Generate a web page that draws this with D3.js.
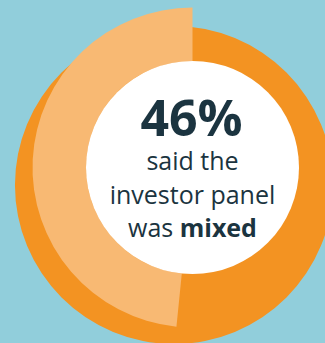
<!DOCTYPE html>
<html>
<head>
<meta charset="utf-8">
<script src="https://cdn.jsdelivr.net/npm/d3@7"></script>
<style>
  body { margin: 0; background: #91cedb; }
  svg { display: block; }
</style>
</head>
<body>
<svg class="chart"></svg>
<script>
// ring segments (percent of full circle)
var slices = ["other", "mixed"];
var shares = [51.6, 48.4];
var headline = "46%";
var caption = [
  [{ t: "said the", b: false }],
  [{ t: "investor panel", b: false }],
  [{ t: "was ", b: false }, { t: "mixed", b: true }]
];

var width = 325,
    height = 343,
    cx = 192.5, cy = 167.5,
    innerR = 106.5, outerR = 160;

var svg = d3.select(".chart")
    .attr("width", width)
    .attr("height", height);

var color = d3.scaleOrdinal()
    .domain(slices)
    .range(["#f39322", "#f8b973"]);

var pie = d3.pie().sort(null).value(function(d) { return d; });
var arcs = pie(shares);

// the orange base disc sits a bit lower-left of the ring centre
svg.append("path")
    .attr("transform", "translate(174,185)")
    .attr("d", d3.arc().innerRadius(0).outerRadius(159)({ startAngle: 0, endAngle: 2 * Math.PI }))
    .attr("fill", color("other"));

var ring = d3.arc().innerRadius(innerR).outerRadius(outerR);

svg.append("path")
    .attr("transform", "translate(" + cx + "," + cy + ")")
    .attr("d", ring(arcs[1]))
    .attr("fill", color("mixed"));

svg.append("circle")
    .attr("cx", cx)
    .attr("cy", cy)
    .attr("r", innerR)
    .attr("fill", "#fff");

svg.append("text")
    .attr("x", cx - 1)
    .attr("y", 136)
    .attr("text-anchor", "middle")
    .style("font-family", "'Open Sans', sans-serif")
    .style("font-weight", 700)
    .style("font-size", "50px")
    .style("fill", "#1b3440")
    .text(headline);

var lineText = svg.selectAll(".line")
    .data(caption)
    .enter().append("text")
    .attr("class", "line")
    .attr("x", cx)
    .attr("y", function(d, i) { return 170 + i * 33.5; })
    .attr("text-anchor", "middle")
    .style("font-family", "'Open Sans', sans-serif")
    .style("font-size", "25px")
    .style("fill", "#1b3440");

lineText.selectAll("tspan")
    .data(function(d) { return d; })
    .enter().append("tspan")
    .style("font-weight", function(d) { return d.b ? 700 : 400; })
    .text(function(d) { return d.t; });
</script>
</body>
</html>
